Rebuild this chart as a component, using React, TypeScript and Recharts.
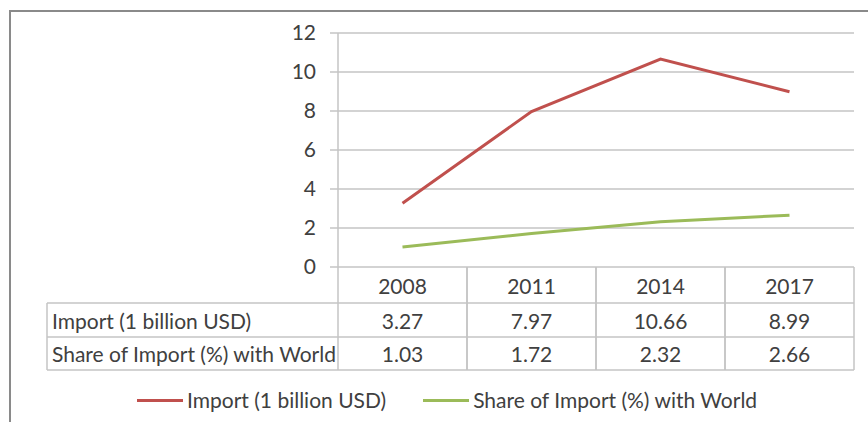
import { LineChart, Line, XAxis, YAxis, CartesianGrid } from "recharts"

const YEARS = ["2008", "2011", "2014", "2017"]
const IMPORT = [3.27, 7.97, 10.66, 8.99]
const SHARE = [1.03, 1.72, 2.32, 2.66]
const Y_TICKS = [0, 2, 4, 6, 8, 10, 12]

const IMPORT_NAME = "Import (1 billion USD)"
const SHARE_NAME = "Share of Import (%) with World"

const RED = "#c0504d"
const GREEN = "#9bbb59"
const GRID = "#c4c4c4"
const TEXT = "#404040"
const FONT = "Lato, 'DejaVu Sans', sans-serif"
const FS = 21

const W = 868
const H = 422
const PLOT_LEFT = 338
const PLOT_RIGHT = 854
const PLOT_TOP = 33
const PLOT_BOTTOM = 267
const COL_W = (PLOT_RIGHT - PLOT_LEFT) / YEARS.length
const TABLE_LEFT = 47
const ROW1 = 303
const ROW2 = 337
const ROW3 = 370

const rows = YEARS.map((year, i) => ({ year, imp: IMPORT[i], share: SHARE[i] }))

// x axis ticks double as the data table columns
function TableTick(props: any) {
  const { x, y, payload, index } = props
  const l = x - COL_W / 2
  const r = x + COL_W / 2
  const i = YEARS.indexOf(payload.value)
  const line = { stroke: GRID, strokeWidth: 1.5 }
  const txt = { fill: TEXT, fontSize: FS, fontFamily: FONT, dominantBaseline: "central" as const }
  return (
    <g>
      <line x1={r} x2={r} y1={y} y2={ROW3} {...line} />
      <line x1={l} x2={l} y1={y} y2={ROW3} {...line} />
      <line x1={l} x2={r} y1={ROW1} y2={ROW1} {...line} />
      <line x1={l} x2={r} y1={ROW2} y2={ROW2} {...line} />
      <line x1={l} x2={r} y1={ROW3} y2={ROW3} {...line} />
      <text x={x} y={(y + ROW1) / 2} textAnchor="middle" {...txt}>{payload.value}</text>
      <text x={x} y={(ROW1 + ROW2) / 2} textAnchor="middle" {...txt}>{IMPORT[i].toFixed(2)}</text>
      <text x={x} y={(ROW2 + ROW3) / 2} textAnchor="middle" {...txt}>{SHARE[i].toFixed(2)}</text>
      {index === 0 && (
        <g>
          <line x1={TABLE_LEFT} x2={l} y1={ROW1} y2={ROW1} {...line} />
          <line x1={TABLE_LEFT} x2={l} y1={ROW2} y2={ROW2} {...line} />
          <line x1={TABLE_LEFT} x2={l} y1={ROW3} y2={ROW3} {...line} />
          <line x1={TABLE_LEFT} x2={TABLE_LEFT} y1={ROW1} y2={ROW3} {...line} />
          <text x={TABLE_LEFT + 5} y={(ROW1 + ROW2) / 2} {...txt}>{IMPORT_NAME}</text>
          <text x={TABLE_LEFT + 5} y={(ROW2 + ROW3) / 2} {...txt}>{SHARE_NAME}</text>
        </g>
      )}
    </g>
  )
}

function LegendItem({ color, name }: { color: string; name: string }) {
  return (
    <span style={{ display: "flex", alignItems: "center", marginRight: 37 }}>
      <span style={{ display: "inline-block", width: 46, height: 3, background: color, marginRight: 4 }} />
      <span>{name}</span>
    </span>
  )
}

export default function App() {
  return (
    <div style={{ position: "absolute", left: 0, top: 0, width: W, height: H, overflow: "hidden", background: "#fff" }}>
      <div
        style={{
          position: "absolute",
          left: 9,
          top: 10,
          width: W,
          height: H,
          border: "2px solid #8a8a8a",
          boxSizing: "border-box",
        }}
      />
      <LineChart
        width={W}
        height={H}
        data={rows}
        margin={{ top: PLOT_TOP, right: W - PLOT_RIGHT, bottom: 0, left: 0 }}
        style={{ position: "absolute", left: 0, top: 0 }}
      >
        <CartesianGrid vertical={false} stroke={GRID} strokeWidth={1.5} />
        <XAxis
          dataKey="year"
          scale="band"
          height={H - PLOT_BOTTOM}
          tick={<TableTick />}
          tickLine={false}
          tickSize={0}
          tickMargin={0}
          axisLine={false}
          interval={0}
        />
        <YAxis
          width={PLOT_LEFT}
          domain={[0, 12]}
          ticks={Y_TICKS}
          interval={0}
          tickSize={8}
          tickMargin={14}
          tickLine={{ stroke: GRID, strokeWidth: 1.5 }}
          axisLine={{ stroke: GRID, strokeWidth: 1.5 }}
          tick={{ fill: TEXT, fontSize: FS, fontFamily: FONT }}
        />
        <Line
          dataKey="imp"
          name={IMPORT_NAME}
          stroke={RED}
          strokeWidth={3}
          dot={false}
          isAnimationActive={false}
        />
        <Line
          dataKey="share"
          name={SHARE_NAME}
          stroke={GREEN}
          strokeWidth={3}
          dot={false}
          isAnimationActive={false}
        />
      </LineChart>
      <div
        style={{
          position: "absolute",
          left: 137,
          top: 388,
          height: 24,
          display: "flex",
          alignItems: "center",
          fontFamily: FONT,
          fontSize: FS,
          color: TEXT,
          whiteSpace: "nowrap",
          lineHeight: "24px",
        }}
      >
        <LegendItem color={RED} name={IMPORT_NAME} />
        <LegendItem color={GREEN} name={SHARE_NAME} />
      </div>
    </div>
  )
}
